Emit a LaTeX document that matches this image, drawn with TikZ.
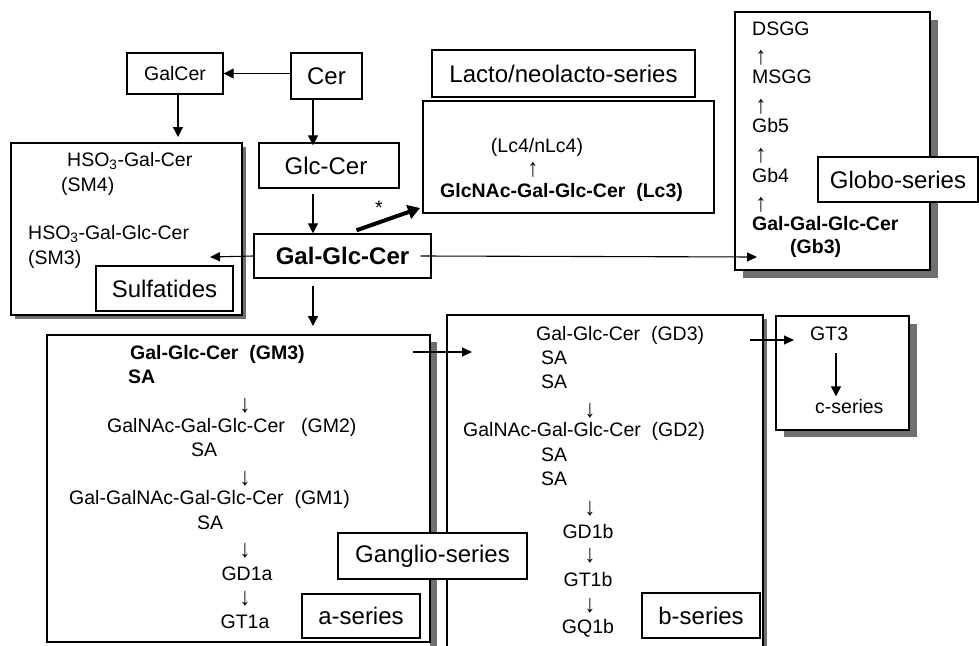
\documentclass[tikz,border=0pt]{standalone}
\usepackage{fontspec}
\usepackage{graphicx}
\setmainfont{Liberation Sans}
\usetikzlibrary{arrows.meta}

\newcommand{\smalltxt}{\fontsize{19.5}{22}\selectfont}
\newcommand{\bigtxt}{\fontsize{24}{28}\selectfont}
\newcommand{\uparr}{\scalebox{1.1}[1.3]{↑}}
\newcommand{\dnarr}{\scalebox{1.1}[1.3]{↓}}
\definecolor{shadowgray}{RGB}{112,112,112}

\tikzset{
  frame/.style={line width=1.4pt,fill=white},
  shade/.style={fill=shadowgray},
  lbl/.style={draw,line width=1.4pt,fill=white,font=\bigtxt,inner sep=0pt},
  txt/.style={font=\smalltxt,inner sep=0pt,anchor=mid west},
  btxt/.style={font=\smalltxt\bfseries,inner sep=0pt,anchor=mid west},
  sym/.style={font=\smalltxt,inner sep=0pt},
  arr/.style={line width=1.3pt,-{Triangle[length=10pt,width=10pt]}},
  thinarr/.style={line width=1.1pt,-{Triangle[length=10pt,width=9pt]}},
  fatarr/.style={line width=4pt,-{Triangle[length=12pt,width=14pt]}},
}

\begin{document}
\begin{tikzpicture}[x=1pt,y=-1pt]
  \useasboundingbox (0,0) rectangle (979,645);

  % Sulfatide
  \fill[shade] (15,147) rectangle (246,319);
  \draw[frame] (11,143) rectangle (242,315);
  \node[txt] (sm4) at (67,164) {HSO\textsubscript{3}-Gal-Cer};
  \node[txt] at (61,189) {(SM4)};
  \node[txt] (sm3) at (28,237) {HSO\textsubscript{3}-Gal-Glc-Cer};
  \node[txt] at (28,262) {(SM3)};
  \node[lbl,minimum width=137pt,minimum height=45pt] (sulf) at (164.5,288.5) {Sulfatides};

  % Lacto/neolacto
  \draw[frame] (423,101) rectangle (714,213);
  \node[lbl,minimum width=263pt,minimum height=47pt] (lacto) at (563.5,73.5) {Lacto/neolacto-series};
  \node[sym] (lc4) at (537,147) {(Lc4/nLc4)};
  \node[sym] at (533,170) {\uparr};
  \node[btxt] (lc3) at (440,195) {GlcNAc-Gal-Glc-Cer\ \ (Lc3)};

  % Globo
  \fill[shade] (743,20) rectangle (938,278);
  \draw[frame] (735,12) rectangle (930,270);
  \foreach \y\t in {33/DSGG,81/MSGG,130/Gb5,180/Gb4}{
    \node[txt] at (752,\y) {\t};
  }
  \foreach \y in {58,107,156,205}{
    \node[sym] at (761,\y) {\uparr};
  }
  \node[btxt] (gb3) at (752,228) {Gal-Gal-Glc-Cer};
  \node[btxt] at (790,251) {(Gb3)};
  \node[lbl,minimum width=160pt,minimum height=45pt] (globo) at (898,179.5) {Globo-series};

  % Ganglio a-series
  \fill[shade] (430,342) rectangle (437,650);
  \draw[frame] (47,335) rectangle (430,642);
  \node[btxt] (gm3) at (130,357) {Gal-Glc-Cer\ \ (GM3)};
  \node[btxt] at (128,381) {SA};
  \node[txt] at (107,430) {GalNAc-Gal-Glc-Cer\ \ \ (GM2)};
  \node[txt] at (191,454) {SA};
  \node[txt] at (69,502) {Gal-GalNAc-Gal-Glc-Cer\ \ (GM1)};
  \node[txt] at (197,527) {SA};
  \node[sym] at (247,574) {GD1a};
  \node[sym] at (245,622) {GT1a};
  \foreach \y in {406,479,551,599}{
    \node[sym] at (245,\y) {\dnarr};
  }
  \node[lbl,minimum width=118pt,minimum height=44pt] (aser) at (361,616) {a-series};

  % Ganglio b-series
  \fill[shade] (763,319) rectangle (767,650);
  \draw[frame] (447,315) rectangle (763,650);
  \node[txt] (gd3) at (536,338) {Gal-Glc-Cer\ \ (GD3)};
  \node[txt] at (541,362) {SA};
  \node[txt] at (541,386) {SA};
  \node[txt] at (463,434) {GalNAc-Gal-Glc-Cer\ \ (GD2)};
  \node[txt] at (541,459) {SA};
  \node[txt] at (541,483) {SA};
  \node[sym] at (588,532) {GD1b};
  \node[sym] at (588,580) {GT1b};
  \node[sym] at (588,628) {GQ1b};
  \foreach \y in {411,509,556,606}{
    \node[sym] at (590,\y) {\dnarr};
  }
  \node[lbl,minimum width=118pt,minimum height=45pt] (bser) at (701,615.5) {b-series};
  \node[lbl,minimum width=189pt,minimum height=46pt] (ganglio) at (432.5,556) {Ganglio-series};

  % c-series
  \fill[shade] (784,324) rectangle (917,437);
  \draw[frame] (776,316) rectangle (909,430);
  \node[txt] (gt3) at (810,338) {GT3};
  \node[txt] (cser) at (815,411) {c-series};

  % main line
  \node[lbl,font=\smalltxt,minimum width=96pt,minimum height=41pt] (galcer) at (175,73.5) {GalCer};
  \node[lbl,minimum width=71pt,minimum height=46pt] (cer) at (326.5,76) {Cer};
  \node[lbl,minimum width=140pt,minimum height=45pt] (glccer) at (329,165.5) {\hspace*{-6pt}Glc-Cer};
  \node[lbl,font=\bigtxt\bfseries,minimum width=177pt,minimum height=44pt] (ggc) at (342.5,256) {Gal-Glc-Cer};

  \coordinate (spine) at (313,0);
  \coordinate (sulfin) at (210,257);
  \coordinate (sulftop) at (178,137);
  \coordinate (gangtop) at (313,326);
  \coordinate (lactoin) at (420,208);
  \coordinate (globoin) at (757,257);
  \coordinate (gm3out) at (413,352);
  \coordinate (gd3in) at (472,352);
  \coordinate (gd3out) at (750,340);
  \coordinate (gt3in) at (794,340);

  \draw[arr] (cer.west |- galcer) -- (galcer.east);
  \draw[arr] (galcer.south -| sulftop) -- (sulftop);
  \draw[arr] (cer.south -| spine) -- ([yshift=-3pt]glccer.north -| spine);
  \draw[arr,shorten <=5pt] (glccer.south -| spine) -- (ggc.north -| spine);
  \draw[arr,shorten <=7pt] (ggc.south -| spine) -- (gangtop);
  \draw[thinarr] (ggc.west) -- (sulfin);
  \draw[fatarr] ([xshift=14pt,yshift=3pt]ggc.north) -- (lactoin);
  \node[sym] (star) at (379,208) {*};
  \draw[thinarr] ([xshift=-11pt]ggc.east) -- (globoin);
  \draw[thinarr] (gm3out) -- (gd3in);
  \draw[thinarr] (gd3out) -- (gt3in);
  \draw[arr] ([yshift=-12pt]gt3.south -| 836,0) -- ([yshift=3pt]cser.north -| 836,0);
\end{tikzpicture}
\end{document}
